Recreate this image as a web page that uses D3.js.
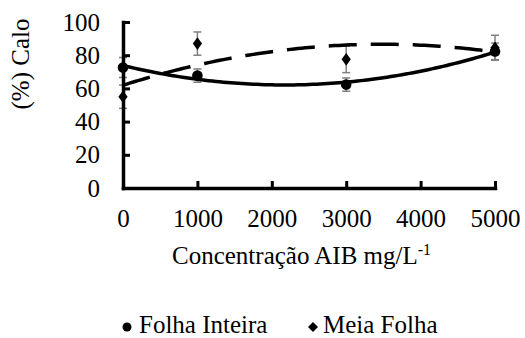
<!DOCTYPE html>
<html>
<head>
<meta charset="utf-8">
<script src="https://cdn.jsdelivr.net/npm/d3@7"></script>
<style>
  html, body { margin: 0; padding: 0; background: #fff; }
  svg { display: block; }
</style>
</head>
<body>
<svg id="chart" width="525" height="338"></svg>
<script>
// Concentration levels (mg/L) and callus percentage per explant type
const concentrations = [0, 1000, 3000, 5000];
const folhaInteira = [72.6, 67.7, 62.3, 82.3];
const folhaInteiraErr = [6, 4, 4, 5];
const meiaFolha = [55, 87, 77.5, 84.5];
const meiaFolhaErr = [7, 7, 8, 7.5];
const xTicks = [0, 1000, 2000, 3000, 4000, 5000];
const yTicks = [0, 20, 40, 60, 80, 100];
const seriesNames = ["Folha Inteira", "Meia Folha"];

const svg = d3.select("#chart");
const FONT = 25;
const FAMILY = '"Liberation Serif"';

function serif(sel, size) {
  return sel.attr("font-family", "Liberation Serif").style("font-family", FAMILY)
    .style("font-size", (size || FONT) + "px");
}

const x = d3.scaleLinear().domain([0, 5000]).range([123, 495]);
const y = d3.scaleLinear().domain([0, 100]).range([188, 22]);

// Second-order least-squares fit (trend line)
function quadFit(xs, ys) {
  let s = [0, 0, 0, 0, 0], t = [0, 0, 0];
  xs.forEach((xv, i) => {
    for (let k = 0; k <= 4; k++) s[k] += Math.pow(xv, k);
    for (let k = 0; k <= 2; k++) t[k] += Math.pow(xv, k) * ys[i];
  });
  const A = [[s[0], s[1], s[2], t[0]], [s[1], s[2], s[3], t[1]], [s[2], s[3], s[4], t[2]]];
  for (let i = 0; i < 3; i++) {
    for (let j = i + 1; j < 3; j++) {
      const f = A[j][i] / A[i][i];
      for (let k = i; k < 4; k++) A[j][k] -= f * A[i][k];
    }
  }
  const c = [0, 0, 0];
  for (let i = 2; i >= 0; i--) {
    let v = A[i][3];
    for (let k = i + 1; k < 3; k++) v -= A[i][k] * c[k];
    c[i] = v / A[i][i];
  }
  return xv => c[0] + c[1] * xv + c[2] * xv * xv;
}

const series = [
  { name: seriesNames[0], values: folhaInteira, err: folhaInteiraErr, marker: "circle", dash: null },
  { name: seriesNames[1], values: meiaFolha, err: meiaFolhaErr, marker: "diamond", dash: "28,14" }
];

// Error bars (drawn first so the axis sits on top of them)
series.forEach(s => {
  const g = svg.append("g").attr("stroke", "#7f7f7f").attr("stroke-width", 1.5);
  concentrations.forEach((c, i) => {
    const cx = x(c), top = y(s.values[i] + s.err[i]), bot = y(s.values[i] - s.err[i]);
    g.append("line").attr("x1", cx).attr("x2", cx).attr("y1", top).attr("y2", bot);
    g.append("line").attr("x1", cx - 4).attr("x2", cx + 4).attr("y1", top).attr("y2", top);
    g.append("line").attr("x1", cx - 4).attr("x2", cx + 4).attr("y1", bot).attr("y2", bot);
  });
});

// Axes
const yAxis = svg.append("g").attr("transform", `translate(${x(0)},0)`)
  .call(d3.axisLeft(y).tickValues(yTicks).tickSizeInner(-7).tickSizeOuter(0).tickPadding(23));
const xAxis = svg.append("g").attr("transform", `translate(0,${y(0)})`)
  .call(d3.axisBottom(x).tickValues(xTicks).tickFormat(d3.format("d")).tickSizeInner(-7).tickSizeOuter(0).tickPadding(21));

[yAxis, xAxis].forEach(g => {
  g.attr("font-family", "Liberation Serif").attr("font-size", FONT);
  g.selectAll("path.domain").attr("stroke", "#000").attr("stroke-width", 3.5).attr("stroke-linecap", "square");
  g.selectAll(".tick line").attr("stroke", "#000").attr("stroke-width", 3);
  serif(g.selectAll(".tick text").attr("fill", "#000"));
});

// Axis titles
serif(svg.append("text")
  .attr("transform", `translate(29,64) rotate(-90)`)
  .attr("text-anchor", "middle"))
  .text("(%) Calo");

const xt = serif(svg.append("text").attr("x", 172).attr("y", 264));
xt.append("tspan").text("Concentração AIB mg/L");
xt.append("tspan").attr("dy", -9).style("font-size", "16px").text("-1");

// Trend lines
const xs = d3.range(0, 5000.1, 50);
const line = d3.line().x(d => x(d[0])).y(d => y(d[1]));
series.forEach(s => {
  const f = quadFit(concentrations.map(c => c / 1000), s.values);
  svg.append("path")
    .attr("d", line(xs.map(v => [v, f(v / 1000)])))
    .attr("fill", "none")
    .attr("stroke", "#000")
    .attr("stroke-width", 3.5)
    .attr("stroke-dasharray", s.dash);
});

// Markers
const circleSym = d3.symbol().type(d3.symbolCircle).size(Math.PI * 5.3 * 5.3);
function diamondPath(cx, cy, w, h) {
  return `M${cx},${cy - h}L${cx + w},${cy}L${cx},${cy + h}L${cx - w},${cy}Z`;
}
series.forEach(s => {
  concentrations.forEach((c, i) => {
    if (s.marker === "circle") {
      svg.append("path").attr("d", circleSym()).attr("transform", `translate(${x(c)},${y(s.values[i])})`).attr("fill", "#000");
    } else {
      svg.append("path").attr("d", diamondPath(x(c), y(s.values[i]), 4.6, 6.3)).attr("fill", "#000");
    }
  });
});

// Legend
const lg = svg.append("g");
lg.append("path").attr("d", d3.symbol().type(d3.symbolCircle).size(Math.PI * 4.5 * 4.5)())
  .attr("transform", "translate(127,327)").attr("fill", "#000");
serif(lg.append("text").attr("x", 139).attr("y", 333)).text(seriesNames[0]);
lg.append("path").attr("d", diamondPath(313, 327, 5, 5)).attr("fill", "#000");
serif(lg.append("text").attr("x", 323).attr("y", 333)).text(seriesNames[1]);
</script>
</body>
</html>
